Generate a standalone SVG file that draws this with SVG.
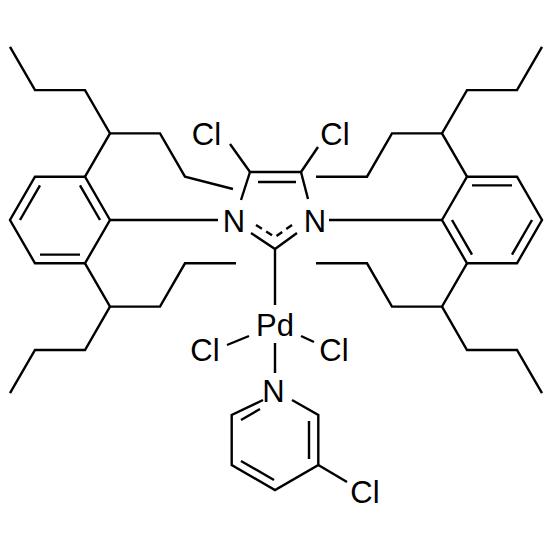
<svg xmlns="http://www.w3.org/2000/svg" width="552" height="552" viewBox="0 0 552 552">
<style>
.b{stroke:#000;stroke-width:2.4;fill:none;stroke-linecap:butt;stroke-linejoin:miter}
.d{stroke:#000;stroke-width:2.4;fill:none;stroke-dasharray:7 5}
text{font-family:"Liberation Sans",Arial,sans-serif;font-size:31px;fill:#000;text-anchor:middle}
</style>
<rect width="552" height="552" fill="#fff"/>
<g id="bonds">
<!-- left aryl ring -->
<polygon class="b" points="110,220 85,176.7 35,176.7 10,220 35,263.3 85,263.3"/>
<line class="b" x1="100" y1="220" x2="80" y2="185.4"/>
<line class="b" x1="40" y1="185.4" x2="20" y2="220"/>
<line class="b" x1="40" y1="254.6" x2="80" y2="254.6"/>
<!-- left upper chain -->
<polyline class="b" points="85,176.7 110,133.4 85,90.1 35,90.1 10,46.8"/>
<polyline class="b" points="110,133.4 160,133.4 185,176.7 233,189"/>
<!-- left lower chain -->
<polyline class="b" points="85,263.3 110,306.6 160,306.6 185,263.3 236,263.3"/>
<polyline class="b" points="110,306.6 85,350 35,350 10,393.2"/>
<!-- right aryl ring -->
<polygon class="b" points="442,220 467,176.7 517,176.7 542,220 517,263.3 467,263.3"/>
<line class="b" x1="472" y1="185.4" x2="512" y2="185.4"/>
<line class="b" x1="452" y1="220" x2="472" y2="254.6"/>
<line class="b" x1="532" y1="220" x2="512" y2="254.6"/>
<!-- right upper chain -->
<polyline class="b" points="467,176.7 442,133.4 467,90.1 517,90.1 542,46.8"/>
<polyline class="b" points="442,133.4 392,133.4 367,176.7 316,176.7"/>
<!-- right lower chain -->
<polyline class="b" points="467,263.3 442,306.6 392,306.6 367,263.3 316,263.3"/>
<polyline class="b" points="442,306.6 467,350 517,350 542,393.2"/>
<!-- aryl to N -->
<line class="b" x1="110" y1="220" x2="218" y2="220"/>
<line class="b" x1="329" y1="220" x2="442" y2="220"/>
<!-- imidazole -->
<line class="b" x1="250" y1="172" x2="301" y2="172"/>
<line class="b" x1="258" y1="182" x2="296" y2="182"/>
<line class="b" x1="250" y1="172" x2="230" y2="144"/>
<line class="b" x1="301" y1="172" x2="318" y2="147"/>
<line class="b" x1="250" y1="172" x2="241" y2="200"/>
<line class="b" x1="301" y1="172" x2="308" y2="199"/>
<polyline class="b" points="251,233 275,249 297,233"/>
<line class="d" x1="256" y1="225" x2="275" y2="237"/>
<line class="d" x1="292" y1="225" x2="275" y2="237"/>
<!-- Pd bonds -->
<line class="b" x1="275" y1="249" x2="275" y2="305"/>
<line class="b" x1="249" y1="336" x2="227" y2="345"/>
<line class="b" x1="301" y1="336" x2="314" y2="342"/>
<line class="b" x1="275" y1="343" x2="275" y2="373"/>
<!-- pyridine -->
<polyline class="b" points="292,400 318.3,415 318.3,465 275,490 231.7,465 231.7,415 263,400"/>
<line class="b" x1="241" y1="420" x2="260" y2="409"/>
<line class="b" x1="309" y1="421" x2="309" y2="459"/>
<line class="b" x1="274" y1="480" x2="241" y2="461"/>
<line class="b" x1="318.3" y1="465" x2="347" y2="482"/>
</g>
<g id="Cl4"><text x="206.5" y="145">Cl</text></g>
<g id="Cl5"><text x="335" y="145">Cl</text></g>
<g id="N1"><text x="234" y="232">N</text></g>
<g id="N3"><text x="315" y="232">N</text></g>
<g id="Pd"><text x="275" y="336">Pd</text></g>
<g id="ClPdL"><text x="205" y="361">Cl</text></g>
<g id="ClPdR"><text x="334" y="361">Cl</text></g>
<g id="Npy"><text x="273.5" y="402">N</text></g>
<g id="Clpy"><text x="365" y="503">Cl</text></g>
</svg>
